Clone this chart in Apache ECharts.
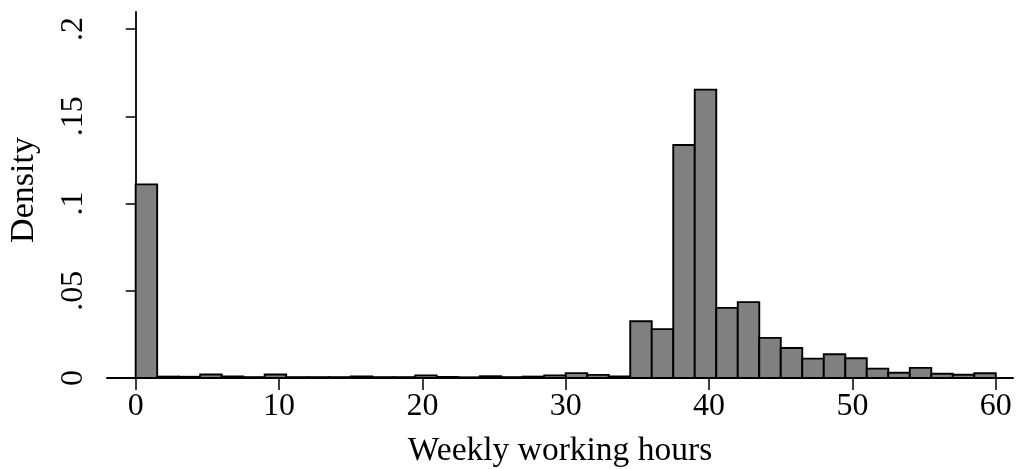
<!DOCTYPE html>
<html>
<head>
<meta charset="utf-8">
<script src="https://cdn.jsdelivr.net/npm/echarts@6/dist/echarts.min.js"></script>
<style>
html,body{margin:0;padding:0;background:#fff;}
#chart{width:1016px;height:469px;}
</style>
</head>
<body>
<div id="chart"></div>
<script>
// Histogram bins (weekly working hours), bin width 1.5
const binStarts = [0,1.5,3,4.5,6,7.5,9,10.5,12,13.5,15,16.5,18,19.5,21,22.5,24,25.5,27,28.5,
                   30,31.5,33,34.5,36,37.5,39,40.5,42,43.5,45,46.5,48,49.5,51,52.5,54,55.5,57,58.5];
const binEnds   = [1.5,3,4.5,6,7.5,9,10.5,12,13.5,15,16.5,18,19.5,21,22.5,24,25.5,27,28.5,30,
                   31.5,33,34.5,36,37.5,39,40.5,42,43.5,45,46.5,48,49.5,51,52.5,54,55.5,57,58.5,60];
const density   = [0.111,0.0008,0.0007,0.002,0.0009,0.0005,0.002,0.0005,0.0005,0.0005,
                   0.0009,0.0005,0.0005,0.0015,0.0006,0.0004,0.001,0.0005,0.0008,0.0015,
                   0.0028,0.0018,0.0009,0.0325,0.028,0.1336,0.1653,0.0402,0.0435,0.023,
                   0.0172,0.0111,0.0136,0.0113,0.0054,0.003,0.0058,0.0024,0.0019,0.0027];
const xTicks = [0,10,20,30,40,50,60];
const yTicks = [0,0.05,0.1,0.15,0.2];
const yTickLabels = ['0','.05','.1','.15','.2'];
const xTitle = 'Weekly working hours';
const yTitle = 'Density';

const data = binStarts.map((s,i)=>[s, binEnds[i], density[i]]);
const font = '"Liberation Serif","Times New Roman",serif';

const chart = echarts.init(document.getElementById('chart'));
chart.setOption({
  animation:false,
  backgroundColor:'#fff',
  grid:{left:107,right:3,top:12,bottom:91,containLabel:false,outerBoundsMode:'none'},
  xAxis:{
    type:'value', min:-2, max:61.2,
    name:xTitle, nameLocation:'middle', nameGap:56,
    nameTextStyle:{fontFamily:font,fontSize:33.5,color:'#000'},
    axisLine:{show:true,onZero:false,lineStyle:{color:'#000',width:1.8}},
    axisTick:{show:true,inside:false,length:12,customValues:xTicks,lineStyle:{color:'#000',width:1.5}},
    axisLabel:{show:true,margin:13,customValues:xTicks,fontFamily:font,fontSize:32,color:'#000'},
    splitLine:{show:false}
  },
  yAxis:{
    type:'value', min:0, max:0.2098,
    name:yTitle, nameLocation:'middle', nameGap:66, nameRotate:90,
    nameTextStyle:{fontFamily:font,fontSize:34,color:'#000',padding:[0,0,0,10]},
    axisLine:{show:true,lineStyle:{color:'#000',width:1.8}},
    axisTick:{show:true,inside:false,length:10,customValues:yTicks,lineStyle:{color:'#000',width:1.5}},
    axisLabel:{show:true,rotate:90,margin:17,customValues:yTicks,fontFamily:font,fontSize:32,color:'#000',
      formatter:function(v){const i=yTicks.findIndex(t=>Math.abs(t-v)<1e-9);return i>=0?yTickLabels[i]:'';}},
    splitLine:{show:false}
  },
  series:[{
    type:'custom',
    data:data,
    encode:{x:[0,1],y:2},
    clip:false,
    renderItem:function(params,api){
      const p0 = api.coord([api.value(0), api.value(2)]);
      const p1 = api.coord([api.value(1), 0]);
      return {
        type:'rect',
        shape:{x:p0[0], y:p0[1], width:p1[0]-p0[0], height:p1[1]-p0[1]},
        style:{fill:'#808080', stroke:'#000', lineWidth:1.9}
      };
    }
  }]
});
</script>
</body>
</html>
